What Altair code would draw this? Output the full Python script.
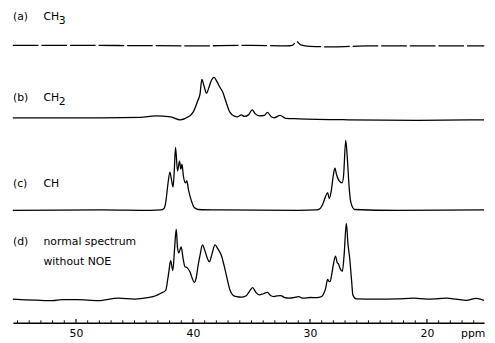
import altair as alt
import pandas as pd

# ---- data (ppm, intensity above each trace's baseline) ----
a_ppm = [55.4, 50.0, 45.0, 40.0, 35.0, 32.0, 31.5, 31.15, 30.8, 30.0, 28.0, 25.0, 20.0, 15.1]
a_int = [0.5, 0.5, 0.3, 0.0, 0.5, 0.0, 0.5, 4.5, 1.0, -0.5, -1.0, 0.0, 0.0, 0.0]

b_ppm = [55.4, 52.0, 47.8, 44.5, 43.2, 41.9, 41.1, 40.4, 39.97, 39.6, 39.4, 39.24, 39.05,
         38.84, 38.63, 38.46, 38.21, 37.96, 37.70, 37.45, 37.2, 36.86, 36.5, 36.18, 35.87,
         35.6, 35.26, 34.94, 34.67, 34.33, 33.9, 33.63, 33.3, 33.07, 32.56, 32.08, 30.96,
         26.75, 20.85, 15.12]
b_int = [0, 0, 0, 0.5, 2, 1, -2, 1, 6, 17, 24, 39, 32,
         25, 31, 37, 41, 37, 31, 26, 17, 6, 2, 1, 3,
         1.5, 3, 8, 4, 2, 2.5, 5.5, 1, 0, 2.5, -0.5, -1,
         -2, -2.5, -2]

c_ppm = [55.4, 47.8, 43.6, 42.76, 42.48, 42.33, 42.16, 41.97, 41.82, 41.7, 41.6, 41.49,
         41.32, 41.15, 41.04, 40.94, 40.82, 40.65, 40.52, 40.4, 40.14, 39.89, 39.55, 37.7,
         31.0, 29.44, 29.13, 28.85, 28.68, 28.49, 28.35, 28.18, 28.0, 27.87, 27.72, 27.5,
         27.25, 27.13, 26.94, 26.79, 26.66, 26.5, 26.18, 22.5, 15.12]
c_int = [0, 0.5, 0, 0.5, 2, 8, 25, 39, 30, 24, 40, 64,
         40, 50, 42, 47, 35, 28, 30, 22, 10, 3, 1, 0.5,
         0, 0.5, 2, 8, 14, 18, 12, 20, 36, 43, 36, 30,
         28, 35, 71, 50, 25, 8, 1, 0, 0.5]

d_ppm = [55.4, 52.0, 51.2, 49.9, 48.09, 46.4, 45.0, 43.88, 43.18, 42.76, 42.33, 42.16,
         42.06, 41.91, 41.72, 41.58, 41.43, 41.32, 41.21, 41.01, 40.84, 40.69, 40.51, 40.23,
         40.06, 39.89, 39.72, 39.55, 39.39, 39.19, 39.0, 38.79, 38.6, 38.37, 38.12, 37.87,
         37.56, 37.36, 37.14, 36.86, 36.58, 36.27, 35.87, 35.45, 35.17, 34.9, 34.63, 34.33,
         33.99, 33.63, 33.4, 33.07, 32.81, 32.5, 32.14, 31.8, 31.38, 30.96, 30.71, 30.54,
         29.98, 29.44, 29.0, 28.81, 28.66, 28.49, 28.36, 28.28, 28.13, 28.0, 27.82, 27.67,
         27.58, 27.42, 27.23, 27.08, 26.89, 26.75, 26.6, 26.45, 26.33, 26.05, 24.22, 22.54,
         21.13, 20.0, 18.89, 18.32, 17.5, 16.64, 15.8, 15.12]
d_int = [0, -1.5, -0.5, -0.5, -1.5, 1, 0, 1.5, 3.5, 6, 9, 20,
         28, 39, 29, 50, 71, 52, 47, 53, 41, 33, 32, 27,
         21, 17, 22, 35, 45, 55, 50, 42, 38, 46, 55, 51,
         44, 35, 24, 10, 4, 2.5, 2, 3.5, 8, 11.7, 7, 4.3,
         5.5, 7, 4, 2.7, 3.3, 3.7, 1.5, 1, 1.5, 2.7, 1.3, 1,
         1.7, 1.5, 2.7, 6, 11, 20, 18, 17.7, 26, 35, 43.7, 37,
         36, 31, 28.3, 45, 77, 56, 41, 20, 4.3, 0.3, 0, 0.3,
         1, 0, 0.7, 1, 0, -1.2, 0.8, -1.2]

tick_labels = [50, 40, 30, 20]
minor_ticks = list(range(16, 56))

# ---- layout ----
W, H = 478, 317
X_MIN, X_MAX = 15.12, 55.39
offsets = {"a": 281, "b": 208, "c": 114, "d": 24}
FONT = "DejaVu Sans"
FS = 11

rows = []
for key, pp, ii in [("a", a_ppm, a_int), ("b", b_ppm, b_int), ("c", c_ppm, c_int), ("d", d_ppm, d_int)]:
    for p, v in zip(pp, ii):
        rows.append({"trace": key, "ppm": p, "y": offsets[key] + v})
df = pd.DataFrame(rows)

xscale = alt.Scale(domain=[X_MIN, X_MAX], reverse=True, nice=False, zero=False)
yscale = alt.Scale(domain=[0, H], nice=False, zero=False)

solid = alt.Chart(df).transform_filter(alt.datum.trace != "a").mark_line(
    color="black", strokeWidth=1.3, interpolate="monotone"
).encode(
    x=alt.X("ppm:Q", scale=xscale,
            axis=alt.Axis(values=tick_labels, title=None, ticks=False, tickSize=0, grid=False,
                          domainColor="black", domainWidth=1.5, labelColor="black",
                          labelFont=FONT, labelFontSize=FS, labelPadding=5, format="d")),
    y=alt.Y("y:Q", scale=yscale, axis=None),
    detail="trace:N",
)

dashed = alt.Chart(df).transform_filter(alt.datum.trace == "a").mark_line(
    color="black", strokeWidth=1.3, interpolate="monotone", strokeDash=[26, 3]
).encode(x=alt.X("ppm:Q", scale=xscale), y=alt.Y("y:Q", scale=yscale, axis=None))

tick_df = pd.DataFrame({"ppm": minor_ticks, "major": [t % 10 == 0 for t in minor_ticks]})
minor = alt.Chart(tick_df).transform_filter(~alt.datum.major).mark_rule(color="black", strokeWidth=1).encode(
    x=alt.X("ppm:Q", scale=xscale), y=alt.value(H), y2=alt.value(H - 2.5))
major = alt.Chart(tick_df).transform_filter(alt.datum.major).mark_rule(color="black", strokeWidth=1.2).encode(
    x=alt.X("ppm:Q", scale=xscale), y=alt.value(H), y2=alt.value(H - 4))

lab_df = pd.DataFrame({
    "tag": ["(a)", "(b)", "(c)", "(d)"],
    "name": ["CH", "CH", "CH", "normal spectrum"],
    "sub": ["3", "2", "", ""],
    "py": [15 - 8, 97 - 8, 184 - 8, 243 - 8],
})
lab_scale = alt.Scale(domain=[0, H], range=[0, H])
txt = dict(align="left", baseline="middle", font=FONT, fontSize=FS, color="black")
tags = alt.Chart(lab_df).mark_text(**txt).encode(
    x=alt.value(0), y=alt.Y("py:Q", scale=lab_scale, axis=None), text="tag:N")
names = alt.Chart(lab_df).mark_text(**txt).encode(
    x=alt.value(31), y=alt.Y("py:Q", scale=lab_scale, axis=None), text="name:N")
subs = alt.Chart(lab_df).mark_text(dy=4, **txt).encode(
    x=alt.value(46.5), y=alt.Y("py:Q", scale=lab_scale, axis=None), text="sub:N")
extra = alt.Chart(pd.DataFrame({"t": ["without NOE"]})).mark_text(**txt).encode(
    x=alt.value(31), y=alt.value(263 - 8), text="t:N")
unit = alt.Chart(pd.DataFrame({"t": ["ppm"]})).mark_text(
    align="center", baseline="top", font=FONT, fontSize=FS, color="black").encode(
    x=alt.value(467), y=alt.value(H + 5), text="t:N")

chart = alt.layer(
    alt.layer(solid, dashed, minor, major),
    alt.layer(tags, names, subs),
    extra, unit,
).resolve_scale(y="independent").properties(
    width=W, height=H, padding={"left": 2, "top": 0, "right": 0, "bottom": 0}, background="white"
).configure_view(stroke=None)

chart.save("out.html", embed_options={"renderer": "svg", "actions": False})
